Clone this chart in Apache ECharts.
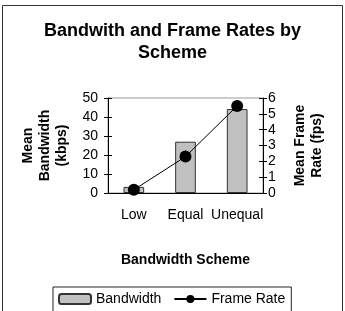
<!DOCTYPE html>
<html>
<head>
<meta charset="utf-8">
<script src="https://cdn.jsdelivr.net/npm/echarts@6/dist/echarts.min.js"></script>
<style>
  html, body { margin: 0; padding: 0; background: #fff; }
  #chart { width: 345px; height: 311px; }
</style>
</head>
<body>
<div id="chart"></div>
<script>
// data
var schemes = ['Low', 'Equal', 'Unequal'];
var bandwidth = [3.2, 27, 44.2];      // kbps, left axis
var frameRate = [0.2, 2.3, 5.5];      // fps, right axis

var FONT = '"Liberation Sans", Arial, sans-serif';
var chart = echarts.init(document.getElementById('chart'), null, { renderer: 'canvas' });

// plain axis used twice more so the ticks cross the axis line like the original
function tickOnly(pos, max, interval) {
  return {
    type: 'value', position: pos, min: 0, max: max, interval: interval,
    axisLine: { show: false },
    axisTick: { show: true, inside: true, length: 4, lineStyle: { color: '#000' } },
    axisLabel: { show: false },
    splitLine: { show: false }
  };
}

var option = {
  backgroundColor: '#fff',
  animation: false,
  textStyle: { fontFamily: FONT, color: '#000' },
  title: {
    text: 'Bandwith and Frame Rates by\nScheme',
    left: 'center',
    top: 15,
    textStyle: { fontFamily: FONT, fontSize: 18, fontWeight: 'bold', color: '#000', lineHeight: 22 }
  },
  graphic: [{
    type: 'rect',
    shape: { x: 2.5, y: 5.5, width: 340, height: 330 },
    style: { fill: 'none', stroke: '#333', lineWidth: 1 },
    silent: true
  }],
  legend: {
    left: 53,
    top: 287,
    itemWidth: 32,
    itemHeight: 10,
    itemGap: 12,
    padding: [5, 6, 10, 5],
    borderColor: '#222',
    borderWidth: 1,
    textStyle: { fontFamily: FONT, fontSize: 14, color: '#000' },
    data: ['Bandwidth', 'Frame Rate']
  },
  grid: {
    left: 108, right: 82, top: 98, bottom: 118,
    show: true, borderColor: '#999', borderWidth: 1
  },
  xAxis: {
    type: 'category',
    data: schemes,
    name: 'Bandwidth Scheme',
    nameLocation: 'middle',
    nameGap: 60,
    nameTextStyle: { fontFamily: FONT, fontSize: 14, fontWeight: 'bold', color: '#000' },
    axisLine: { lineStyle: { color: '#000' } },
    axisTick: { length: 5, lineStyle: { color: '#000' } },
    axisLabel: { interval: 0, fontFamily: FONT, fontSize: 14, color: '#000', margin: 15 }
  },
  yAxis: [{
    type: 'value',
    position: 'left',
    min: 0, max: 50, interval: 10,
    name: 'Mean\nBandwidth\n(kbps)',
    nameLocation: 'middle',
    nameRotate: 90,
    nameGap: 37,
    nameTextStyle: { fontFamily: FONT, fontSize: 14, fontWeight: 'bold', color: '#000', lineHeight: 17 },
    axisLine: { show: true, lineStyle: { color: '#000' } },
    axisTick: { show: true, length: 4, lineStyle: { color: '#000' } },
    axisLabel: { fontFamily: FONT, fontSize: 14, color: '#000', margin: 10 },
    splitLine: { show: false }
  }, {
    type: 'value',
    position: 'right',
    min: 0, max: 6, interval: 1,
    name: 'Mean Frame\nRate (fps)',
    nameLocation: 'middle',
    nameRotate: 90,
    nameGap: 29,
    nameTextStyle: { fontFamily: FONT, fontSize: 14, fontWeight: 'bold', color: '#000', lineHeight: 17 },
    axisLine: { show: true, lineStyle: { color: '#000' } },
    axisTick: { show: true, length: 4, lineStyle: { color: '#000' } },
    axisLabel: { fontFamily: FONT, fontSize: 14, color: '#000', margin: 5 },
    splitLine: { show: false }
  }, tickOnly('left', 50, 10), tickOnly('right', 6, 1)],
  series: [{
    name: 'Bandwidth',
    type: 'bar',
    data: bandwidth,
    barWidth: '40%',
    itemStyle: { color: '#c0c0c0', borderColor: '#333', borderWidth: 1 }
  }, {
    name: 'Frame Rate',
    type: 'line',
    yAxisIndex: 1,
    data: frameRate,
    symbol: 'circle',
    symbolSize: 12,
    lineStyle: { color: '#000', width: 1 },
    itemStyle: { color: '#000' }
  }]
};

chart.setOption(option);
</script>
</body>
</html>
